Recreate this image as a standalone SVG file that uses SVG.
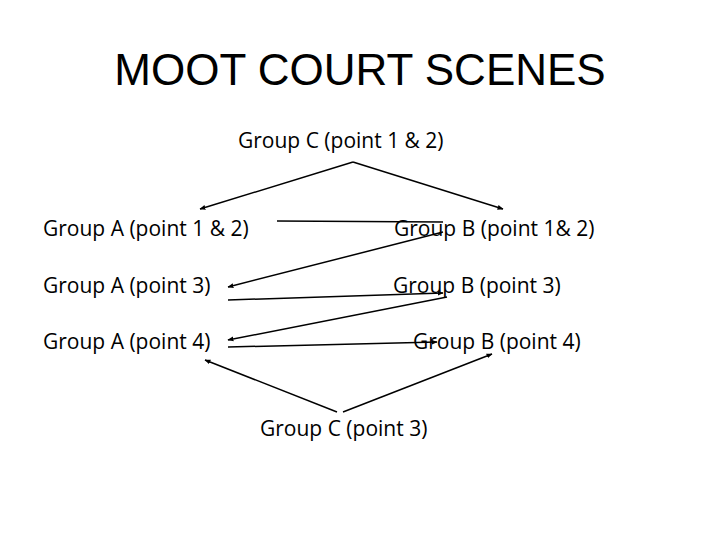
<svg xmlns="http://www.w3.org/2000/svg" width="720" height="540" viewBox="0 0 720 540">
<defs>
<style>
.t{font-family:"Open Sans","Liberation Sans",sans-serif;font-size:21px;fill:#000}
.title{font-family:"Liberation Sans",Arial,sans-serif;font-size:44px;fill:#000}
.c{stroke:#000;stroke-width:1.5;fill:none}
</style>
<marker id="ah" viewBox="0 0 10 10" refX="9" refY="5" markerWidth="6" markerHeight="6" orient="auto" markerUnits="userSpaceOnUse">
<path d="M0,1 L10,5 L0,9 Z" fill="#000"/>
</marker>
</defs>
<rect width="720" height="540" fill="#fff"/>
<text class="title" x="360" y="85" text-anchor="middle">MOOT COURT SCENES</text>
<g id="nodeC12"><text class="t" x="238" y="148">Group C (point 1 &amp; 2)</text></g>
<g id="nodeA12"><text class="t" x="43" y="236">Group A (point 1 &amp; 2)</text></g>
<g id="nodeB12"><text class="t" x="394" y="236">Group B (point 1&amp; 2)</text></g>
<g id="nodeA3"><text class="t" x="43" y="293">Group A (point 3)</text></g>
<g id="nodeB3"><text class="t" x="393" y="293">Group B (point 3)</text></g>
<g id="nodeA4"><text class="t" x="43" y="349">Group A (point 4)</text></g>
<g id="nodeB4"><text class="t" x="413" y="349">Group B (point 4)</text></g>
<g id="nodeC3"><text class="t" x="260" y="436">Group C (point 3)</text></g>
<g id="connectors">
<line class="c" x1="353" y1="162" x2="200" y2="209" marker-end="url(#ah)"/>
<line class="c" x1="353" y1="162" x2="503" y2="209" marker-end="url(#ah)"/>
<line class="c" x1="277" y1="221" x2="443" y2="222"/>
<line class="c" x1="443" y1="232" x2="228" y2="287" marker-end="url(#ah)"/>
<line class="c" x1="228" y1="300" x2="443" y2="293" marker-end="url(#ah)"/>
<line class="c" x1="447" y1="297" x2="228" y2="340" marker-end="url(#ah)"/>
<line class="c" x1="228" y1="347" x2="437" y2="342" marker-end="url(#ah)"/>
<line class="c" x1="337" y1="412" x2="205" y2="360" marker-end="url(#ah)"/>
<line class="c" x1="343" y1="412" x2="492" y2="354" marker-end="url(#ah)"/>
</g>
</svg>
